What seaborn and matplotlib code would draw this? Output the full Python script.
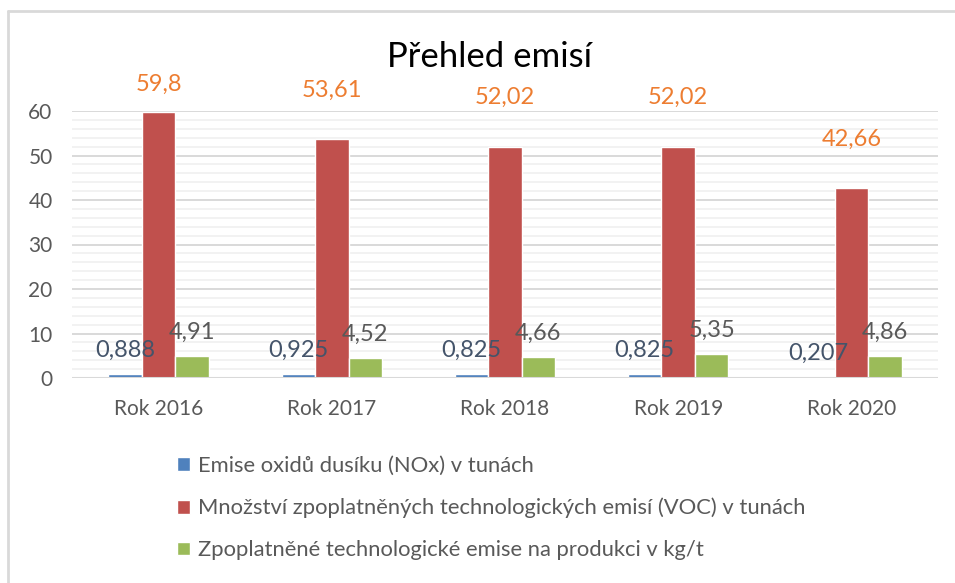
import pandas as pd
import matplotlib.pyplot as plt
import seaborn as sns
from matplotlib.ticker import MultipleLocator
from matplotlib.lines import Line2D

# Data
years = ["Rok 2016", "Rok 2017", "Rok 2018", "Rok 2019", "Rok 2020"]
nox = [0.888, 0.925, 0.825, 0.825, 0.207]
voc = [59.8, 53.61, 52.02, 52.02, 42.66]
per_product = [4.91, 4.52, 4.66, 5.35, 4.86]
series_names = [
    "Emise oxidů dusíku (NOx) v tunách",
    "Množství zpoplatněných technologických emisí (VOC) v tunách",
    "Zpoplatněné technologické emise na produkci v kg/t",
]
colors = ["#4F81BD", "#C0504D", "#9BBB59"]
label_colors = ["#44546A", "#ED7D31", "#595959"]

df = pd.DataFrame({
    "rok": years * 3,
    "hodnota": nox + voc + per_product,
    "serie": [series_names[0]] * 5 + [series_names[1]] * 5 + [series_names[2]] * 5,
})

sns.set_style("white")
plt.rcParams["font.family"] = ["Lato", "DejaVu Sans"]

fig = plt.figure(figsize=(9.55, 5.83), dpi=100)
ax = fig.add_axes([72 / 955, 1 - 378 / 583, (938 - 72) / 955, (378 - 111) / 583])

sns.barplot(data=df, x="rok", y="hodnota", hue="serie", hue_order=series_names,
            palette=colors, saturation=1, width=0.58, ax=ax)

ax.set_xlim(-0.5, 4.5)
ax.set_ylim(0, 60)
ax.yaxis.set_major_locator(MultipleLocator(10))
ax.yaxis.set_minor_locator(MultipleLocator(2))
ax.grid(axis="y", which="major", color="#D9D9D9", linewidth=1.4, zorder=0)
ax.grid(axis="y", which="minor", color="#F2F2F2", linewidth=1.4, zorder=0)
ax.set_axisbelow(True)
for s in ax.spines.values():
    s.set_visible(False)
ax.axhline(0, color="#D9D9D9", linewidth=1.5, zorder=1)
ax.tick_params(axis="both", which="both", length=0, labelsize=15, colors="#595959")
ax.tick_params(axis="y", pad=14)
ax.tick_params(axis="x", pad=15)
ax.set_xlabel("")
ax.set_ylabel("")

def fmt(v):
    return str(v).replace(".", ",")

# data labels
values = [nox, voc, per_product]
for i, cont in enumerate(ax.containers):
    for bar, v in zip(cont, values[i]):
        x = bar.get_x() + bar.get_width() / 2
        if i == 1:
            y = min(v + 11.0, 66.0)
        else:
            y = v + 5.4
        ax.text(x, y, fmt(v), ha="center", va="center", fontsize=17,
                color=label_colors[i], clip_on=False)

# legend below
handles, labels = ax.get_legend_handles_labels()
ax.get_legend().remove()
fig.legend(handles, labels, loc="upper left", bbox_to_anchor=(168 / 955, 1 - 447 / 583),
           frameon=False, fontsize=15.8, labelcolor="#595959", handlelength=0.6,
           handleheight=0.6, handletextpad=0.35, labelspacing=1.0, borderaxespad=0)

fig.suptitle("Přehled emisí", x=489 / 955, y=1 - 57 / 583, va="center", fontsize=25, color="black")

# chart border
fig.add_artist(Line2D([8 / 955, 1], [1 - 11 / 583, 1 - 11 / 583], color="#D9D9D9", linewidth=2))
fig.add_artist(Line2D([8 / 955, 8 / 955], [0, 1 - 11 / 583], color="#D9D9D9", linewidth=2))

fig.savefig("out.png", dpi=100)
